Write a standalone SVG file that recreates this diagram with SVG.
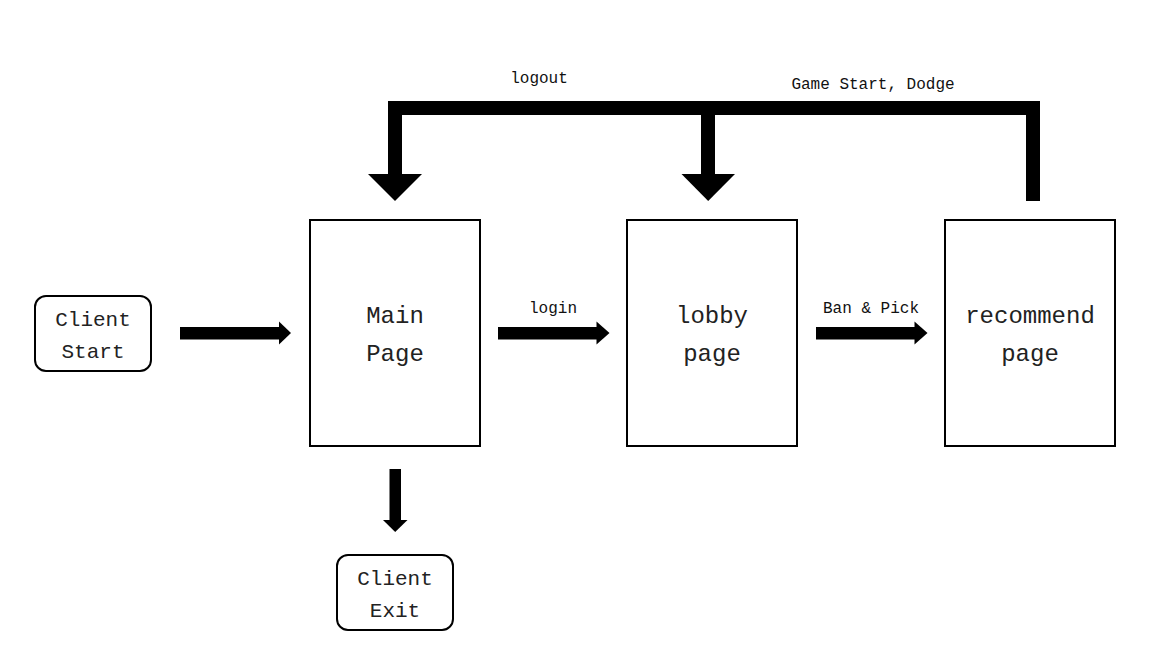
<svg xmlns="http://www.w3.org/2000/svg" width="1159" height="659" viewBox="0 0 1159 659">
<style>
.bg{fill:#fff}
.box{fill:#fff;stroke:#000;stroke-width:2}
.big{font-family:"Liberation Mono","DejaVu Sans Mono",monospace;font-size:24px;fill:#222;text-anchor:middle}
.mid{font-family:"Liberation Mono","DejaVu Sans Mono",monospace;font-size:21px;fill:#222;text-anchor:middle}
.lbl{font-family:"Liberation Mono","DejaVu Sans Mono",monospace;font-size:16px;fill:#111;text-anchor:middle}
.bar{fill:none;stroke:#000;stroke-width:14;stroke-linejoin:miter}
.head{fill:#000}
</style>
<rect class="bg" x="0" y="0" width="1159" height="659"/>
<g id="client-start">
<rect class="box" x="35" y="296" width="116" height="75" rx="11"/>
<text class="mid" x="93" y="326">Client</text>
<text class="mid" x="93" y="358">Start</text>
</g>
<g id="main-page">
<rect class="box" x="310" y="220" width="170" height="226"/>
<text class="big" x="395" y="323">Main</text>
<text class="big" x="395" y="361">Page</text>
</g>
<g id="lobby-page">
<rect class="box" x="627" y="220" width="170" height="226"/>
<text class="big" x="712" y="323">lobby</text>
<text class="big" x="712" y="361">page</text>
</g>
<g id="recommend-page">
<rect class="box" x="945" y="220" width="170" height="226"/>
<text class="big" x="1030" y="323">recommend</text>
<text class="big" x="1030" y="361">page</text>
</g>
<g id="client-exit">
<rect class="box" x="337" y="555" width="116" height="75" rx="11"/>
<text class="mid" x="395" y="585">Client</text>
<text class="mid" x="395" y="617">Exit</text>
</g>
<g id="connectors">
<rect class="head" x="180" y="327" width="101" height="12.5"/>
<polygon class="head" points="279,321.5 291,333 279,344.5"/>
<rect class="head" x="498" y="327" width="100" height="12.5"/>
<polygon class="head" points="596.5,321.5 609.5,333 596.5,344.5"/>
<text class="lbl" x="553" y="313">login</text>
<rect class="head" x="816" y="327" width="100" height="12.5"/>
<polygon class="head" points="914.5,321.5 927.5,333 914.5,344.5"/>
<text class="lbl" x="871" y="313">Ban &amp; Pick</text>
<rect class="head" x="389.5" y="469" width="11.5" height="52"/>
<polygon class="head" points="383,520 407.5,520 395.2,532"/>
<path class="bar" d="M1033,201 V108 H395 V175"/>
<polygon class="head" points="368,174 422,174 395,201"/>
<line class="bar" x1="708" y1="108" x2="708" y2="175"/>
<polygon class="head" points="681.5,174 735,174 708.2,201"/>
<text class="lbl" x="539" y="83">logout</text>
<text class="lbl" x="873" y="89">Game Start, Dodge</text>
</g>
</svg>
